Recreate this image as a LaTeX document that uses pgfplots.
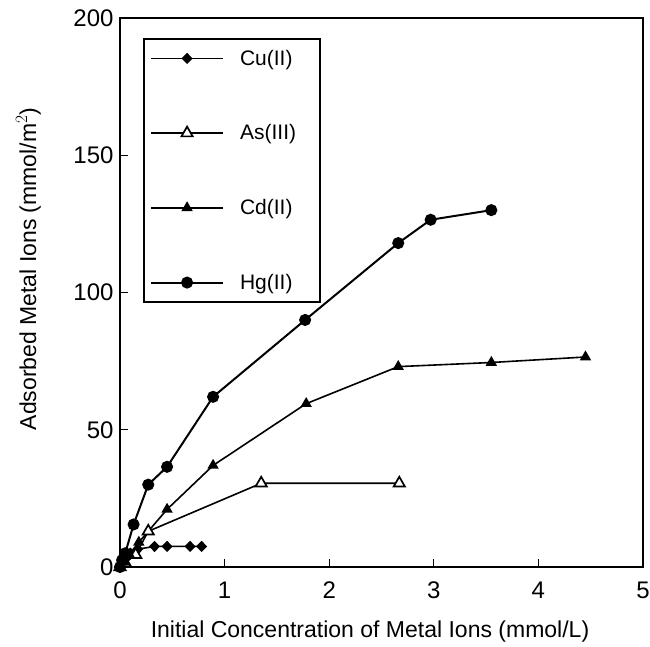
\documentclass[border=0pt]{standalone}
\usepackage{fontspec}
\setmainfont{Liberation Sans}
\usepackage{pgfplots}
\pgfplotsset{compat=1.18}

\begin{document}
\begin{tikzpicture}
\useasboundingbox (-120pt,-79pt) rectangle (530pt,567pt);
\begin{axis}[
  scale only axis, width=523pt, height=549pt,
  xmin=0, xmax=5, ymin=0, ymax=200,
  xtick={0,1,2,3,4,5}, ytick={0,50,100,150,200},
  tick align=inside, xtick pos=left, ytick pos=left,
  major tick length=8pt,
  axis line style={line width=1.5pt},
  tick style={line width=1.3pt, black},
  /pgf/number format/assume math mode=true,
  tick label style={font=\fontsize{24}{24}\selectfont},
  xticklabel style={yshift=-11pt},
  yticklabel style={xshift=-3pt},
  label style={font=\fontsize{23}{23}\selectfont},
  xlabel={Initial Concentration of Metal Ions (mmol/L)},
  ylabel={Adsorbed Metal Ions (mmol/m$^{2}$)},
  xlabel style={at={(axis description cs:0.478,-0.118)}, anchor=center},
  ylabel style={at={(axis description cs:-0.175,0.543)}, anchor=center},
  clip=false,
  legend cell align=left,
  legend image code/.code={\draw[mark repeat=2,mark phase=2,#1] plot coordinates {(0pt,0pt) (36pt,0pt) (72pt,0pt)};},
  legend style={at={(axis description cs:0.0446,0.963)}, anchor=north west,
    draw=black, line width=1.5pt, font=\fontsize{21}{21}\selectfont,
    row sep=54pt, inner xsep=6pt, inner ysep=9pt,
    /tikz/every odd column/.append style={column sep=14pt}},
]
% Cu(II)
\addplot[black, line width=1.6pt, mark=diamond*, mark size=4.5pt,
  mark options={xscale=1.3}] coordinates {
  (0,0) (0.02,1.5) (0.05,3.5) (0.10,5) (0.17,6.5) (0.33,7.5) (0.45,7.5) (0.67,7.5) (0.78,7.5)
};
% As(III)
\addplot[black, line width=1.6pt, mark=triangle*, mark size=6.5pt,
  mark options={fill=white, line width=1.7pt}] coordinates {
  (0,0) (0.05,1.5) (0.15,4.5) (0.27,13) (1.35,30.5) (2.67,30.5)
};
% Cd(II)
\addplot[black, line width=1.6pt, mark=triangle*, mark size=5pt] coordinates {
  (0,0) (0.04,2) (0.09,4.5) (0.18,9) (0.45,21) (0.89,37) (1.78,59.5) (2.66,73) (3.55,74.5) (4.45,76.5)
};
% Hg(II)
\addplot[black, line width=2pt, mark=*, mark size=5pt] coordinates {
  (0,0) (0.02,2.5) (0.05,5) (0.13,15.5) (0.27,30) (0.45,36.5) (0.89,62) (1.77,90) (2.66,118) (2.97,126.5) (3.55,130)
};
\legend{Cu(II), As(III)\hspace*{16pt}, Cd(II), Hg(II)}
\end{axis}
\end{tikzpicture}
\end{document}
